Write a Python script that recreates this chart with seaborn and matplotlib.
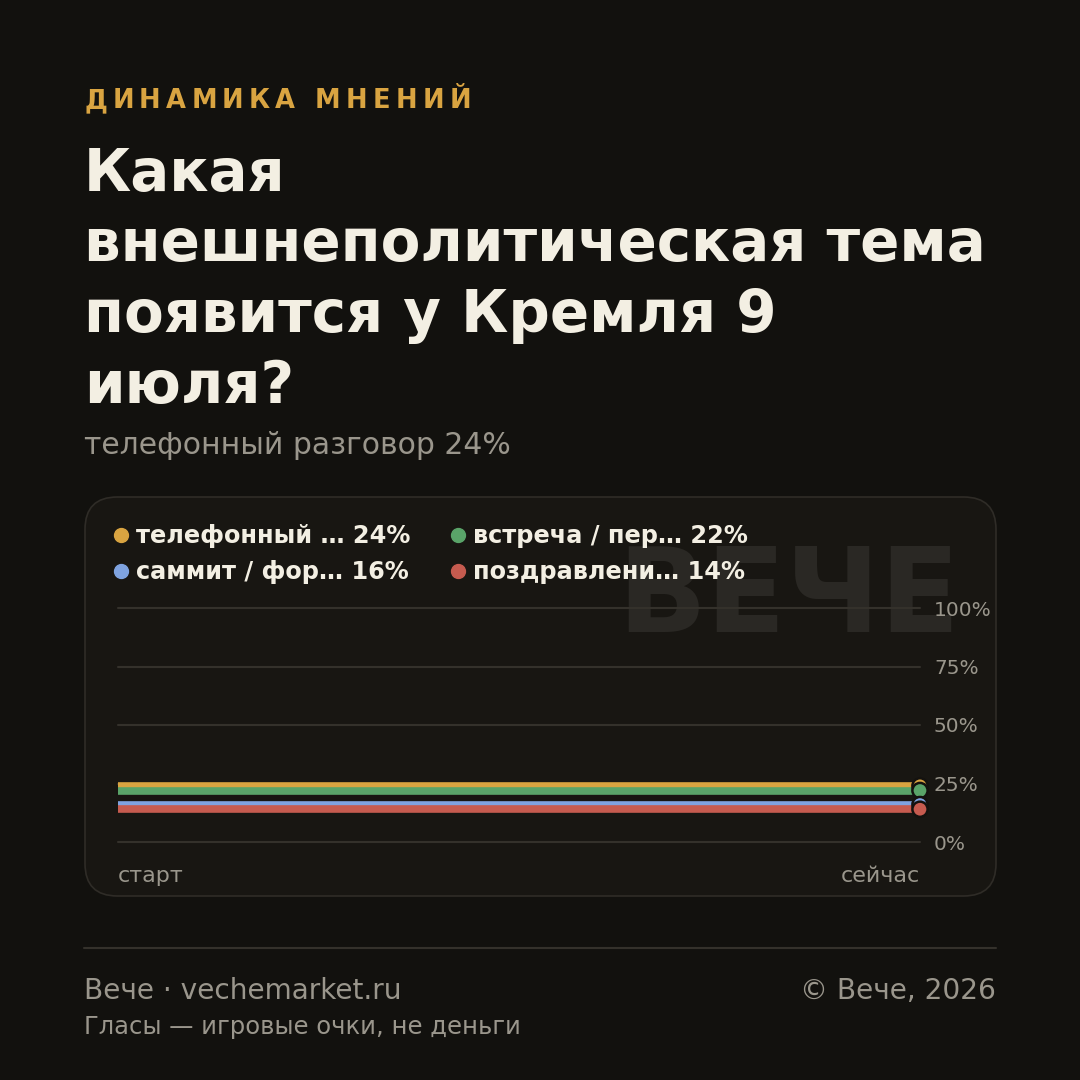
import matplotlib
matplotlib.use("Agg")
import matplotlib.pyplot as plt
from matplotlib.patches import FancyBboxPatch
from matplotlib.lines import Line2D
import seaborn as sns
import pandas as pd

# data
series = ["телефонный разговор", "встреча / переговоры", "саммит / форум", "поздравление"]
legend_names = ["телефонный …", "встреча / пер…", "саммит / фор…", "поздравлени…"]
x_points = [0, 1]
x_labels = ["старт", "сейчас"]
values = {
    "телефонный разговор": [24, 24],
    "встреча / переговоры": [22, 22],
    "саммит / форум": [16, 16],
    "поздравление": [14, 14],
}
colors = ["#d9a441", "#5aa469", "#7fa3e0", "#c65b4f"]
y_ticks = [0, 25, 50, 75, 100]

BG = "#12110e"
CARD = "#181612"
TXT = "#f3efe3"
MUTED = "#9a968c"
GRID = "#34312b"

sns.set_theme(style="dark")
plt.rcParams["font.family"] = ["DejaVu Sans"]

fig = plt.figure(figsize=(10.8, 10.8), dpi=100, facecolor=BG)

def fx(px):
    return px / 1080

def fy(py):
    return 1 - py / 1080

# card
card = FancyBboxPatch((fx(85), fy(896)), fx(996 - 85), fx(896 - 497),
                      boxstyle="round,pad=0,rounding_size=0.03",
                      transform=fig.transFigure, facecolor=CARD,
                      edgecolor="#2f2c27", linewidth=1.2, zorder=-10)
fig.patches.append(card)

# kicker with letter spacing
kicker = "ДИНАМИКА МНЕНИЙ"
renderer = fig.canvas.get_renderer()
chars = []
widths = []
for ch in kicker:
    t = fig.text(0, fy(101), ch, color="#d9a441", fontsize=18.5,
                 fontweight="bold", va="center", ha="left")
    w = t.get_window_extent(renderer=renderer).width if ch != " " else 9
    chars.append(t)
    widths.append(w)
gap = (387 - sum(widths)) / (len(kicker) - 1)
xpos = 84
for t, w in zip(chars, widths):
    t.set_x(fx(xpos))
    xpos += w + gap

fig.text(fx(84), fy(146), "Какая\nвнешнеполитическая тема\nпоявится у Кремля 9\nиюля?",
         color=TXT, fontsize=41.7, fontweight="bold", va="top", ha="left",
         linespacing=1.3)
fig.text(fx(84), fy(446), "телефонный разговор 24%", color=MUTED, fontsize=21.5,
         va="center", ha="left")

# watermark
fig.text(fx(789), fy(600), "ВЕЧЕ", color="#2a2824", fontsize=84, fontweight="bold",
         va="center", ha="center", zorder=-5)

# chart
ax = fig.add_axes([fx(118), fy(842), fx(920 - 118), fx(842 - 608)], zorder=2)
ax.set_facecolor("none")
ax.patch.set_alpha(0)

rows = []
for s in series:
    for x, v in zip(x_points, values[s]):
        rows.append({"x": x, "value": v, "series": s})
df = pd.DataFrame(rows)

sns.lineplot(data=df, x="x", y="value", hue="series", hue_order=series,
             palette=colors, linewidth=5.5, ax=ax, legend=False, zorder=3)
last = df[df["x"] == x_points[-1]]
sns.scatterplot(data=last, x="x", y="value", hue="series", hue_order=series,
                palette=colors, s=120, edgecolor="#14120f", linewidth=1.8,
                ax=ax, legend=False, zorder=4)
for coll in ax.collections:
    coll.set_clip_on(False)

ax.set_xlim(0, 1)
ax.set_ylim(0, 100)
ax.set_yticks(y_ticks)
ax.set_yticklabels([f"{t}%" for t in y_ticks])
ax.yaxis.tick_right()
ax.tick_params(axis="y", colors=MUTED, labelsize=14.5, length=0, pad=10)
ax.set_xticks([])
ax.set_xlabel("")
ax.set_ylabel("")
for t in y_ticks:
    ax.axhline(t, color=GRID, linewidth=1.5, zorder=1, clip_on=False)
ax.grid(False)
for sp in ax.spines.values():
    sp.set_visible(False)

fig.text(fx(118), fy(876), x_labels[0], color=MUTED, fontsize=16, va="center", ha="left")
fig.text(fx(920), fy(876), x_labels[1], color=MUTED, fontsize=16, va="center", ha="right")

# legend
handles = []
labels = []
for name, s, c in zip(legend_names, series, colors):
    handles.append(Line2D([0], [0], marker="o", linestyle="", markersize=10,
                          markerfacecolor=c, markeredgecolor=c))
    labels.append(f"{name} {values[s][-1]}%")
order = [0, 2, 1, 3]
leg = fig.legend([handles[i] for i in order], [labels[i] for i in order],
                 loc="upper left", bbox_to_anchor=(fx(95), fy(505)), ncol=2,
                 frameon=False, handlelength=0.6, handletextpad=0.3,
                 columnspacing=1.7, labelspacing=0.5, borderpad=0.3,
                 prop={"weight": "bold", "size": 17.3})
for t in leg.get_texts():
    t.set_color(TXT)

# footer
fig.add_artist(Line2D([fx(84), fx(996)], [fy(948), fy(948)], color="#34312b",
                      linewidth=1.5, transform=fig.transFigure))
fig.text(fx(84), fy(991), "Вече · vechemarket.ru", color=MUTED, fontsize=20.2,
         va="center", ha="left")
fig.text(fx(996), fy(991), "© Вече, 2026", color=MUTED, fontsize=20.2,
         va="center", ha="right")
fig.text(fx(84), fy(1027), "Гласы — игровые очки, не деньги", color=MUTED,
         fontsize=17.5, va="center", ha="left")

fig.savefig("out.png", dpi=100, facecolor=BG)
